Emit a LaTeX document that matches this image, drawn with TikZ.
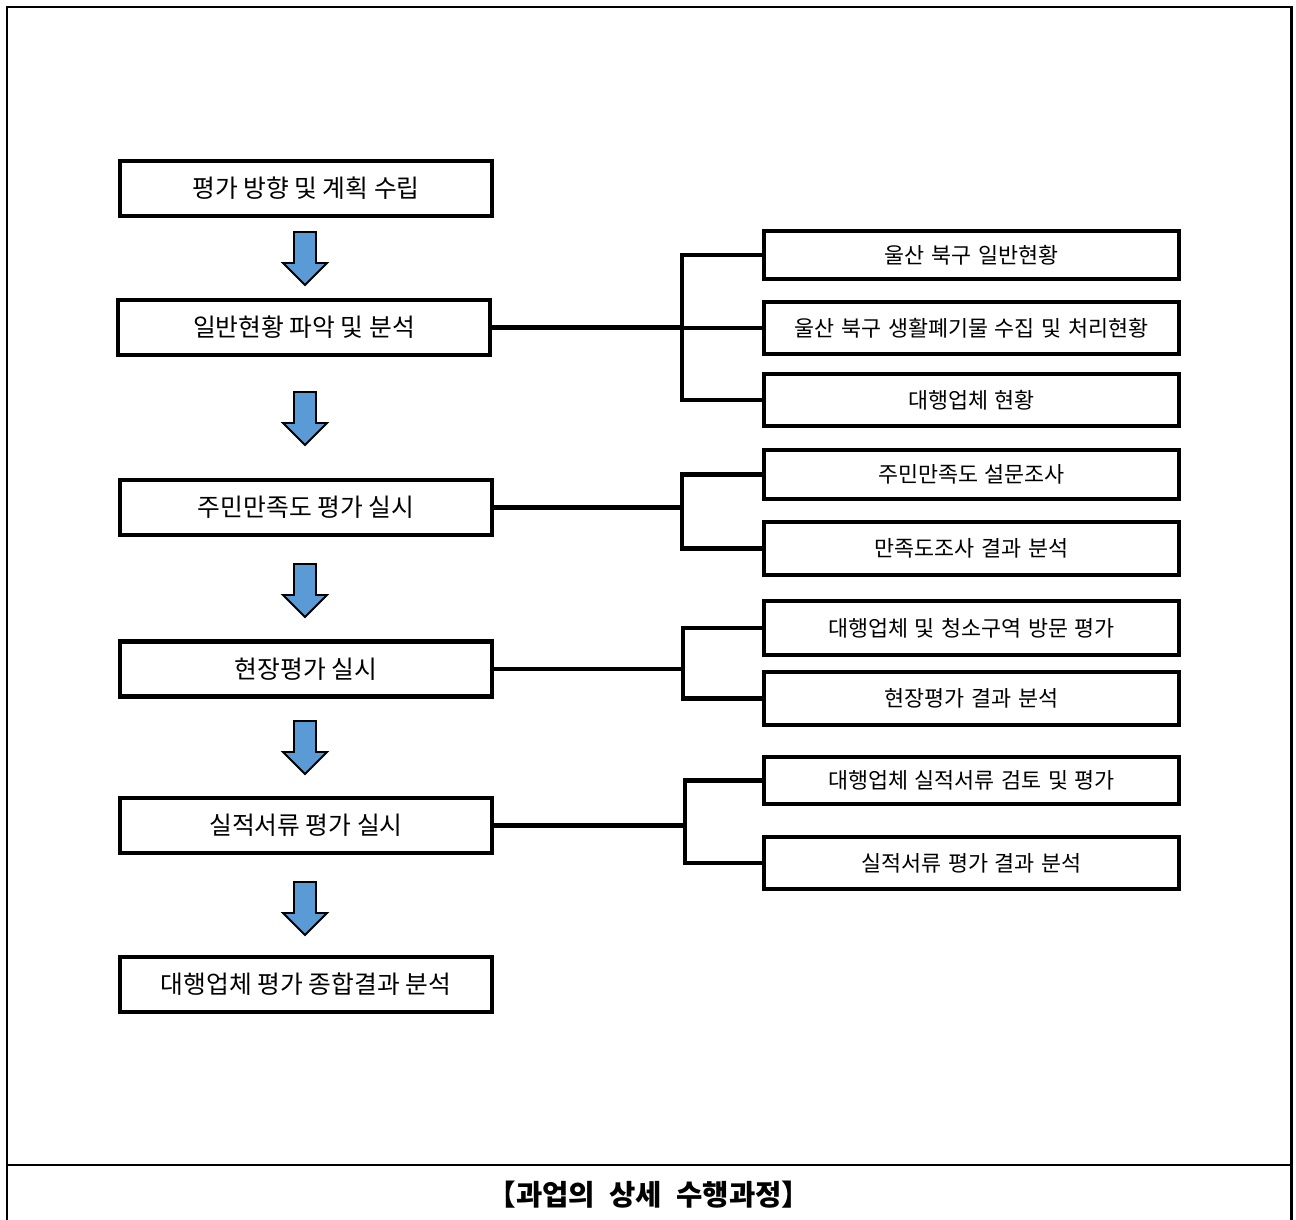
\documentclass[tikz,border=0pt]{standalone}
\usepackage{fontspec}
\newfontfamily\krfont{Noto Sans CJK KR}
\usetikzlibrary{positioning}
\definecolor{arrblue}{HTML}{5B9BD5}
\newcommand\rboxfont{\krfont\fontsize{12.4pt}{15pt}\selectfont\spaceskip=0.3em\relax}

\tikzset{
  lbox/.style={draw, line width=2.3pt, minimum width=7.44cm, minimum height=1.1cm,
    inner sep=0pt, font=\krfont\fontsize{14.1pt}{16pt}\selectfont},
  rbox/.style={draw, line width=2.3pt, minimum width=8.3cm, inner sep=0pt,
    font=\rboxfont},
  conn/.style={line width=2.3pt},
  downarr/.style={draw=black, line width=1.1pt, fill=arrblue, line join=miter}
}

\begin{document}
\begin{tikzpicture}[x=0.02cm,y=-0.02cm]
\useasboundingbox (0,0) rectangle (1296,1220);
% outer frame and caption
\draw[line width=1.7pt] (7,1222) -- (7,7) -- (1291,7) -- (1291,1222);
\draw[line width=1pt] (7,1165) -- (1291,1165);
\node (cap) at (649,1195) {\krfont\bfseries\fontsize{16.3pt}{18pt}\selectfont\spaceskip=0.5em\relax 【과업의 상세 수행과정】};

% main steps
\node[lbox] (s1) at (306,188.5) {평가 방향 및 계획 수립};
\node[lbox] (s2) at (304,327.5) {일반현황 파악 및 분석};
\node[lbox] (s3) at (306,507.5) {주민만족도 평가 실시};
\node[lbox] (s4) at (306,669) {현장평가 실시};
\node[lbox] (s5) at (306,825.5) {실적서류 평가 실시};
\node[lbox] (s6) at (306,984.5) {대행업체 평가 종합결과 분석};

% arrows between steps
\foreach \t in {232,392,564,721,882}
  \draw[downarr] (294,\t) -- (316,\t) -- (316,\t+31) -- (327,\t+31) -- (305,\t+53)
    -- (283,\t+31) -- (294,\t+31) -- cycle;

% detail boxes
\node[rbox, minimum height=0.96cm] (a1) at (971.5,255) {울산 북구 일반현황};
\node[rbox, minimum height=1.04cm] (a2) at (971.5,328) {울산 북구 생활폐기물 수집 및 처리현황};
\node[rbox, minimum height=1.04cm] (a3) at (971.5,400) {대행업체 현황};
\node[rbox, minimum height=0.98cm] (b1) at (971.5,474.5) {주민만족도 설문조사};
\node[rbox, minimum height=1.06cm] (b2) at (971.5,548.5) {만족도조사 결과 분석};
\node[rbox, minimum height=1.08cm] (c1) at (971.5,628) {대행업체 및 청소구역 방문 평가};
\node[rbox, minimum height=1.06cm] (c2) at (971.5,698.5) {현장평가 결과 분석};
\node[rbox, minimum height=0.94cm] (d1) at (971.5,780.5) {대행업체 실적서류 검토 및 평가};
\node[rbox, minimum height=1.04cm] (d2) at (971.5,863) {실적서류 평가 결과 분석};

% branch connectors
\coordinate (busA) at (682,0);
\coordinate (busB) at (682,0);
\coordinate (busC) at (683,0);
\coordinate (busD) at (685,0);
\draw[conn] (s2.east) -- (s2.east -| busA);
\draw[conn] (a1.west) -- (a1.west -| busA) -- (a3.west -| busA) -- (a3.west);
\draw[conn] (a2.west) -- (a2.west -| busA);
\draw[conn] (s3.east) -- (s3.east -| busB);
\draw[conn] (b1.west) -- (b1.west -| busB) -- (b2.west -| busB) -- (b2.west);
\draw[conn] (s4.east) -- (s4.east -| busC);
\draw[conn] (c1.west) -- (c1.west -| busC) -- (c2.west -| busC) -- (c2.west);
\draw[conn] (s5.east) -- (s5.east -| busD);
\draw[conn] (d1.west) -- (d1.west -| busD) -- (d2.west -| busD) -- (d2.west);
\end{tikzpicture}
\end{document}
